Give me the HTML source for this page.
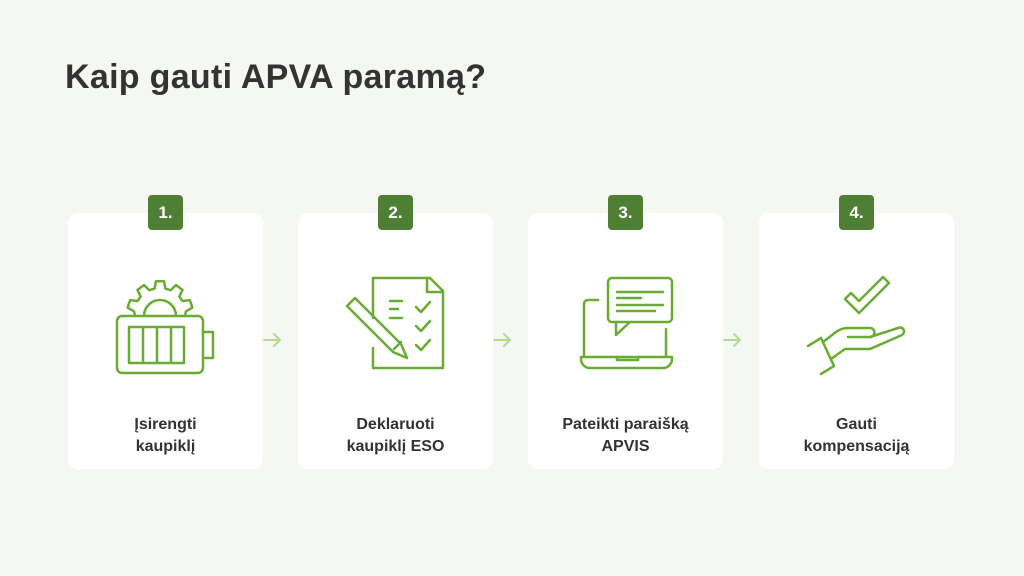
<!DOCTYPE html>
<html><head><meta charset="utf-8"><style>
body{margin:0;width:1024px;height:576px;background:#f5f7f2;font-family:"Liberation Sans",sans-serif;position:relative;overflow:hidden}
h1{position:absolute;left:65px;top:58px;margin:0;font-size:34px;font-weight:bold;color:#333;letter-spacing:0.3px}
.card{position:absolute;top:213px;width:195px;height:256px;background:#fff;border-radius:10px}
.badge{position:absolute;top:195px;width:35px;height:35px;background:#4f7f35;border-radius:4px;color:#fff;font-weight:bold;font-size:17px;text-align:center;line-height:35px}
.lbl{position:absolute;top:414px;width:195px;text-align:center;font-weight:bold;font-size:16px;color:#333;line-height:22px}
svg{position:absolute;left:0;top:0}
</style></head><body>
<h1>Kaip gauti APVA paramą?</h1>
<div class="card" style="left:68px"></div>
<div class="card" style="left:298px"></div>
<div class="card" style="left:528px"></div>
<div class="card" style="left:759px"></div>
<div class="badge" style="left:148px">1.</div>
<div class="badge" style="left:378px">2.</div>
<div class="badge" style="left:608px">3.</div>
<div class="badge" style="left:839px">4.</div>
<div class="lbl" style="left:68px">Įsirengti<br>kaupiklį</div>
<div class="lbl" style="left:298px">Deklaruoti<br>kaupiklį ESO</div>
<div class="lbl" style="left:528px">Pateikti paraišką<br>APVIS</div>
<div class="lbl" style="left:759px">Gauti<br>kompensaciją</div>
<svg width="1024" height="576" fill="none" stroke="#6aab34" stroke-width="2.5" stroke-linecap="round" stroke-linejoin="round">
<g stroke="#b5d98f" stroke-width="2"><path d="M264 340h16M274 334l6 6-6 6"/><path d="M494 340h16M504 334l6 6-6 6"/><path d="M724 340h16M734 334l6 6-6 6"/></g>
<!-- battery -->
<rect x="117" y="316" width="86" height="57" rx="5"/>
<path d="M203 332h10v26h-10"/>
<rect x="129" y="327" width="55" height="36"/>
<path d="M143 327v36M157 327v36M171 327v36"/>
<path d="M144 316a16 16 0 0 1 32 0"/>
<path d="M135 316L134.1 311.3L127.6 307.7L130.1 300.1L137.5 301L140.7 296.6L137.5 289.9L144 285.1L149.4 290.2L154.6 288.6L156 281.2L164 281.2L165.4 288.6L170.6 290.2L176 285.1L182.5 289.9L179.3 296.6L182.5 301L189.9 300.1L192.4 307.7L185.9 311.3L185 316"/>
<!-- doc -->
<path d="M373 278h57l13 13v77h-70v-20"/><path d="M373 318v-40"/><path d="M427 278v14h15"/>
<path d="M390 301h12M390 309h8M390 318h12"/>
<path d="M416 307l5 5 9-10M416 326l5 5 9-10M416 345l5 5 9-10"/>
<path d="M350 303l5-5 46 46 6 14-14-6-46-46z"/><path d="M394 349l7-7"/>
<!-- laptop -->
<rect x="608" y="278" width="64" height="44" rx="4"/>
<path d="M617 292h46M617 298h24M617 305h46M617 311h38"/>
<path d="M616 322v13l14-13"/>
<path d="M598 300h-10a4 4 0 0 0-4 4v52M666 329v27"/>
<path d="M581 357h91v2a9 9 0 0 1-9 9h-73a9 9 0 0 1-9-9z"/>
<path d="M617 357v3h21v-3"/>
<!-- hand -->
<path d="M845 299l6-6 8 8 24-24 6 6-30 30z"/>
<path d="M808 346l13-8 13 28-13 8"/>
<path d="M823 342l13-10c4-3 8-4 12-4h22a4 4 0 0 1 0 9h-22"/>
<path d="M870 337l28-9a4 4 0 0 1 4 7l-32 14h-25l-14 10"/>
</svg>
</body></html>
